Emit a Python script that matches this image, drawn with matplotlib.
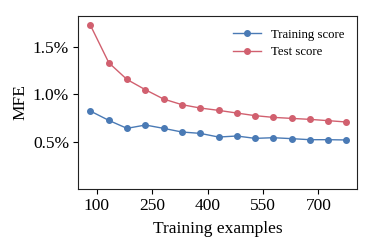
import matplotlib
matplotlib.use("Agg")
import matplotlib.pyplot as plt
from matplotlib.ticker import FuncFormatter

# training sizes and scores
train_sizes = [83, 133, 182, 232, 281, 331, 380, 430, 479, 529, 578, 628, 677, 727, 776]
train_score = [0.824, 0.725, 0.641, 0.676, 0.641, 0.602, 0.588, 0.549, 0.560,
               0.535, 0.542, 0.532, 0.521, 0.521, 0.518]
test_score = [1.732, 1.334, 1.158, 1.049, 0.951, 0.891, 0.856, 0.831, 0.803,
              0.775, 0.757, 0.746, 0.736, 0.722, 0.708]
x_ticks = [100, 250, 400, 550, 700]
y_ticks = [0.5, 1.0, 1.5]

plt.rcParams['font.family'] = ['Liberation Serif', 'DejaVu Serif']
plt.rcParams['mathtext.fontset'] = 'stix'

fig, ax = plt.subplots(figsize=(3.74, 2.48), dpi=100)
fig.subplots_adjust(left=0.209, right=0.955, top=0.936, bottom=0.238)

blue = '#4a7ab5'
red = '#d1606f'
ax.plot(train_sizes, train_score, '-o', color=blue, lw=1, ms=4,
        label='Training score')
ax.plot(train_sizes, test_score, '-o', color=red, lw=1, ms=4,
        label='Test score')

ax.set_xlim(50, 805)
ax.set_ylim(0.0, 1.83)
ax.set_xticks(x_ticks)
ax.set_yticks(y_ticks)
ax.yaxis.set_major_formatter(FuncFormatter(lambda v, p: f'{v:.1f}%'))
ax.tick_params(labelsize=12.5, direction='out', length=3.5, width=0.8, pad=3)
ax.set_xlabel('Training examples', fontsize=12.5, labelpad=5)
ax.set_ylabel('MFE', fontsize=12.5, labelpad=3)
for s in ax.spines.values():
    s.set_linewidth(0.8)
    s.set_color('#222222')

ax.legend(loc='upper right', frameon=False, fontsize=9.2, handlelength=2.2,
          borderaxespad=0.6, labelspacing=0.45)

fig.savefig('out.png', dpi=100)
